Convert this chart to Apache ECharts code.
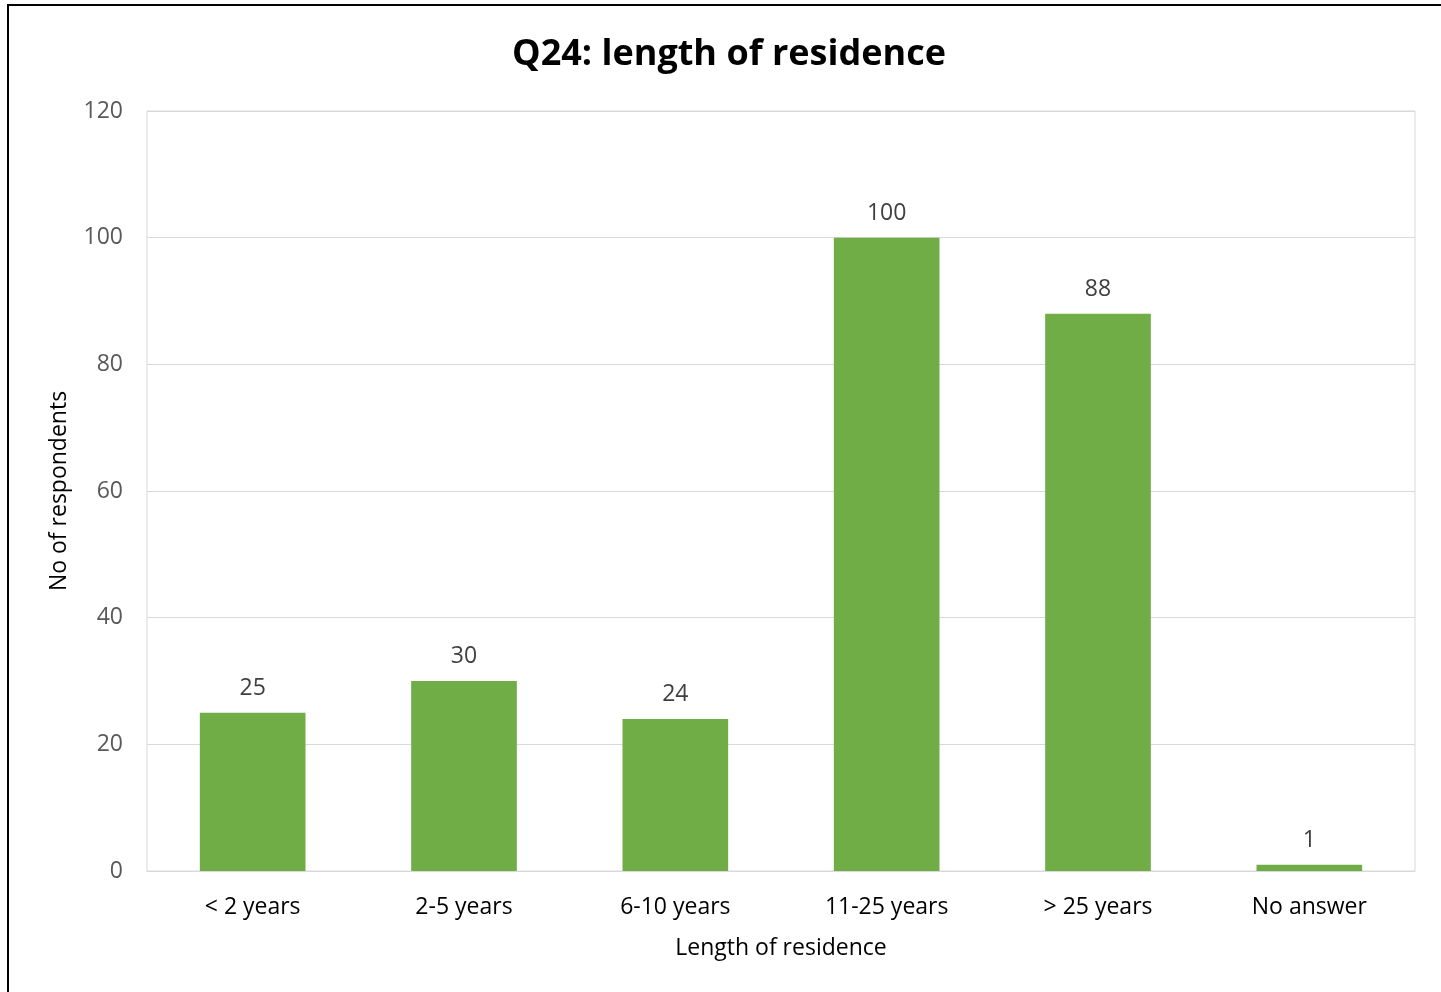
<!DOCTYPE html>
<html><head><meta charset="utf-8">
<script src="https://cdn.jsdelivr.net/npm/echarts@6/dist/echarts.min.js"></script>
<style>html,body{margin:0;padding:0;background:#fff}#c{width:1441px;height:992px}</style>
</head><body><div id="c"></div>
<script>
const categories = ['< 2 years', '2-5 years', '6-10 years', '11-25 years', '> 25 years', 'No answer'];
const values = [25, 30, 24, 100, 88, 1];
const yTicks = [0, 20, 40, 60, 80, 100, 120];
const chart = echarts.init(document.getElementById('c'));
const F = '"Open Sans", "Noto Sans", sans-serif';
chart.setOption({
  animation: false,
  title: { text: 'Q24: length of residence', left: 724, top: 32, textAlign: 'center',
    textStyle: { fontFamily: F, fontSize: 36, fontWeight: 'bold', color: '#000' } },
  graphic: [{ type: 'rect', shape: { x: 8, y: 5, width: 1450, height: 1000 },
    style: { fill: 'none', stroke: '#000', lineWidth: 2 }, z: 100 }],
  grid: { left: 147, right: 26, top: 111, bottom: 121, show: true, borderColor: '#d9d9d9', borderWidth: 1 },
  xAxis: { type: 'category', data: categories, name: 'Length of residence', nameLocation: 'middle', nameGap: 66,
    nameTextStyle: { fontFamily: F, fontSize: 23, color: '#000' },
    axisLine: { lineStyle: { color: '#d9d9d9' } }, axisTick: { show: false },
    axisLabel: { fontFamily: F, fontSize: 23, color: '#000', margin: 25 } },
  yAxis: { type: 'value', min: yTicks[0], max: yTicks[yTicks.length - 1], interval: 20,
    name: 'No of respondents', nameLocation: 'middle', nameGap: 76,
    nameTextStyle: { fontFamily: F, fontSize: 23, color: '#000' },
    axisLine: { show: false }, axisTick: { show: false },
    splitLine: { lineStyle: { color: '#d9d9d9' } },
    axisLabel: { fontFamily: F, fontSize: 23, color: '#595959', margin: 24 } },
  series: [{ type: 'bar', data: values, barWidth: '50%', itemStyle: { color: '#70ad47' },
    label: { show: true, position: 'top', distance: 13, fontFamily: F, fontSize: 23, color: '#404040' } }]
});
</script></body></html>
